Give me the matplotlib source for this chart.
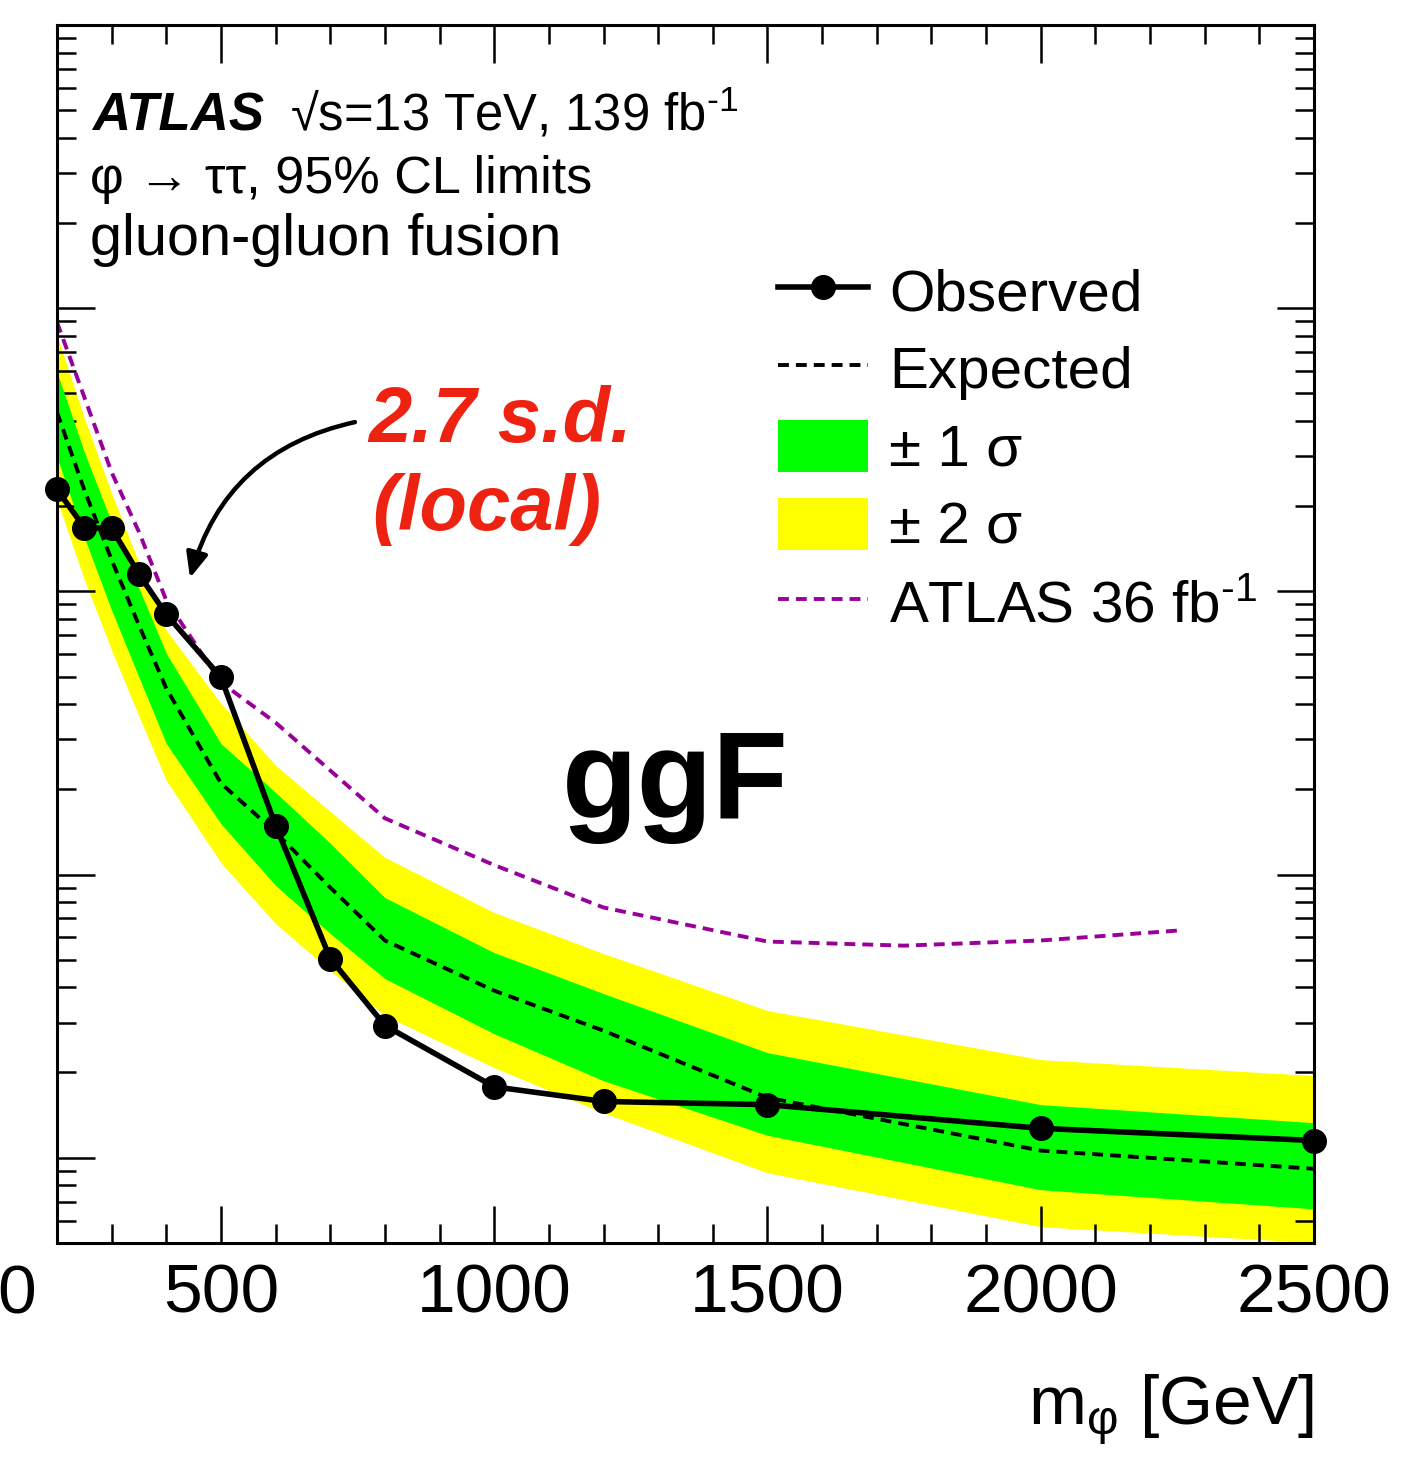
import numpy as np
import matplotlib.pyplot as plt
from matplotlib.lines import Line2D
from matplotlib.patches import Patch
from matplotlib.ticker import MultipleLocator, LogLocator, NullFormatter

plt.rcParams['font.family'] = ['Liberation Sans', 'DejaVu Sans']
plt.rcParams['mathtext.fontset'] = 'custom'
plt.rcParams['mathtext.rm'] = 'Liberation Sans'
plt.rcParams['mathtext.it'] = 'Liberation Sans:italic'
plt.rcParams['mathtext.bf'] = 'Liberation Sans:bold'
plt.rcParams['mathtext.fallback'] = 'stixsans'

# 95% CL limits on sigma x BR (pb), ggF production
mass = [200, 250, 300, 350, 400, 500, 600, 700, 800, 1000, 1200, 1500, 2000, 2500]
observed = [0.229, 0.168, 0.167, 0.115, 0.0829, 0.0497, 0.0149, 0.00505,
            0.00293, 0.00178, 0.00158, 0.00154, 0.00127, 0.00115]
expected = [0.429, 0.228, 0.129, 0.0758, 0.0454, 0.0210, 0.0141, 0.0090,
            0.00585, 0.00389, 0.00281, 0.00163, 0.00106, 0.000914]
band1_up = [0.594, 0.310, 0.175, 0.1025, 0.0604, 0.0290, 0.0195, 0.0129,
            0.00829, 0.00530, 0.00380, 0.00235, 0.00154, 0.00133]
band1_dn = [0.298, 0.155, 0.0857, 0.0497, 0.0290, 0.0151, 0.00915, 0.00619,
            0.00429, 0.00274, 0.00187, 0.00120, 0.000771, 0.000660]
band2_up = [0.803, 0.409, 0.222, 0.126, 0.0728, 0.0402, 0.0243, 0.0167,
            0.0115, 0.00734, 0.00526, 0.00331, 0.00222, 0.00195]
band2_dn = [0.210, 0.110, 0.0619, 0.0362, 0.0215, 0.0110, 0.00671, 0.00458,
            0.00318, 0.00208, 0.00144, 0.000885, 0.000571, 0.000501]

# previous result with 36 fb-1
mass_36 = [200, 250, 300, 350, 400, 500, 600, 700, 800, 1000, 1200, 1500, 1750, 2000, 2250]
limit_36 = [0.892, 0.485, 0.263, 0.162, 0.0929, 0.0477, 0.0344, 0.0233,
            0.0158, 0.0108, 0.00765, 0.00580, 0.00561, 0.00585, 0.00634]

dash = (0, (2.8, 1.8))
inv_fb = 'fb$^{\u2010\\mathrm{1}}$'

fig = plt.figure(figsize=(14.08, 14.57), dpi=100)
ax = fig.add_axes([0.0405, 0.1469, 0.8927, 0.8359])

ax.fill_between(mass, band2_dn, band2_up, color='#ffff00', lw=0, zorder=1)
ax.fill_between(mass, band1_dn, band1_up, color='#00ff00', lw=0, zorder=2)
ax.plot(mass_36, limit_36, color='#990099', lw=2.8, ls=dash, zorder=3)
ax.plot(mass, expected, color='black', lw=2.8, ls=dash, zorder=4)
ax.plot(mass, observed, color='black', lw=4, marker='o', ms=17,
        clip_on=False, zorder=6)

ax.set_yscale('log')
ax.set_xlim(200, 2500)
ax.set_ylim(5e-4, 10)

ax.xaxis.set_major_locator(MultipleLocator(500))
ax.xaxis.set_minor_locator(MultipleLocator(100))
ax.yaxis.set_major_locator(LogLocator(base=10))
ax.yaxis.set_minor_locator(LogLocator(base=10, subs=np.arange(2, 10)))
ax.yaxis.set_minor_formatter(NullFormatter())
ax.tick_params(which='both', direction='in', top=True, right=True, width=1.8)
ax.tick_params(which='major', length=27)
ax.tick_params(which='minor', length=13.5)
ax.tick_params(axis='y', which='both', labelleft=False)
ax.tick_params(axis='x', labelsize=50, pad=14)
for sp in ax.spines.values():
    sp.set_linewidth(2.2)
    sp.set_zorder(7)

fig.text(17 / 1408, 0.0988, '0', fontsize=50, ha='center', va='baseline')

ax.text(1.0, -0.149, r'm$_{\mathrm{φ}}$ [GeV]', transform=ax.transAxes,
        fontsize=50, ha='right', va='baseline')

# header
ax.text(0.0278, 0.9138, 'ATLAS', transform=ax.transAxes, fontsize=38,
        fontweight='bold', fontstyle='italic', va='baseline')
ax.text(0.1854, 0.9138, '√s=13 TeV, 139 ' + inv_fb,
        transform=ax.transAxes, fontsize=36.5, va='baseline')
ax.text(0.0263, 0.862, 'φ → ττ, 95% CL limits',
        transform=ax.transAxes, fontsize=37.5, va='baseline')
ax.text(0.0263, 0.811, 'gluon-gluon fusion', transform=ax.transAxes,
        fontsize=41.5, va='baseline')

ax.text(0.4018, 0.349, 'ggF', transform=ax.transAxes, fontsize=89,
        fontweight='bold', va='baseline')

red = '#ee2211'
ax.text(0.2474, 0.6576, '2.7 s.d.', transform=ax.transAxes, fontsize=56,
        fontweight='bold', fontstyle='italic', color=red, va='baseline')
ax.text(0.2506, 0.5854, '(local)', transform=ax.transAxes, fontsize=56,
        fontweight='bold', fontstyle='italic', color=red, va='baseline')
ax.annotate('', xy=(0.1058, 0.546), xytext=(0.237, 0.674),
            xycoords='axes fraction', textcoords='axes fraction',
            arrowprops=dict(arrowstyle='-|>,head_length=1.5,head_width=0.65',
                            color='black', lw=3.2,
                            connectionstyle='arc3,rad=0.3',
                            shrinkA=0, shrinkB=0))

handles = [
    Line2D([], [], color='black', lw=4, marker='o', ms=17),
    Line2D([], [], color='black', lw=2.8, ls=dash),
    Patch(facecolor='#00ff00', edgecolor='none'),
    Patch(facecolor='#ffff00', edgecolor='none'),
    Line2D([], [], color='#990099', lw=2.8, ls=dash),
]
labels = ['Observed', 'Expected', '± 1 σ', '± 2 σ', 'ATLAS 36 ' + inv_fb]
ax.legend(handles, labels, loc='upper left',
          bbox_to_anchor=(778 / 1408, 1 - 264 / 1457),
          bbox_transform=fig.transFigure, frameon=False, fontsize=42,
          handlelength=1.55, handleheight=1.0, handletextpad=0.36,
          labelspacing=0.34, borderpad=0, borderaxespad=0)

fig.savefig('out.png', dpi=100)
